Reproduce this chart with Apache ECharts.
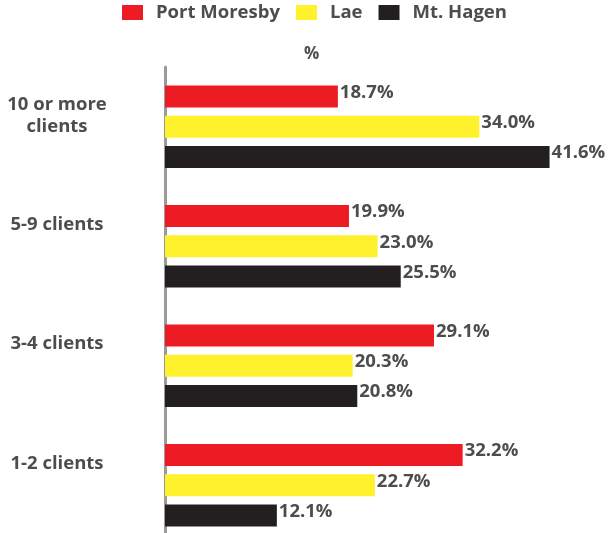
<!DOCTYPE html>
<html>
<head>
<meta charset="utf-8">
<script src="https://cdn.jsdelivr.net/npm/echarts@6/dist/echarts.min.js"></script>
<style>
  html, body { margin: 0; padding: 0; background: #fff; overflow: hidden; }
  /* a bit taller than the window: the lowest band runs past the bottom edge */
  #chart { width: 616px; height: 545px; }
</style>
</head>
<body>
<div id="chart"></div>
<script>
// Data
const categories = ['10 or more\nclients', '5-9 clients', '3-4 clients', '1-2 clients']
const portMoresby = [18.7, 19.9, 29.1, 32.2]
const lae = [34.0, 23.0, 20.3, 22.7]
const mtHagen = [41.6, 25.5, 20.8, 12.1]

const textColor = '#4d4d4d'
const font = '"Open Sans", sans-serif'

const chart = echarts.init(document.getElementById('chart'))

const makeSeries = (name, data, color) => ({
  name: name,
  type: 'bar',
  data: data,
  barWidth: 22,
  barGap: '38%',
  itemStyle: { color: color },
  label: {
    show: true,
    position: 'right',
    distance: 2,
    offset: [0, -4],
    formatter: p => p.value.toFixed(1) + '%',
    color: textColor,
    fontFamily: font,
    fontWeight: 'bold',
    fontSize: 18.5
  }
})

chart.setOption({
  animation: false,
  title: {
    text: '%',
    left: 299,
    top: 41,
    textStyle: { color: textColor, fontFamily: font, fontWeight: 'bold', fontSize: 17 }
  },
  legend: {
    top: 3,
    left: 122,
    padding: 0,
    itemWidth: 21,
    itemHeight: 15,
    itemGap: 16,
    icon: 'rect',
    textStyle: { color: textColor, fontFamily: font, fontWeight: 'bold', fontSize: 18.5, padding: [0, 0, 0, 8] }
  },
  grid: { left: 165, top: 67, bottom: 0, right: 35 },
  xAxis: {
    type: 'value',
    min: 0,
    max: 45,
    show: false
  },
  yAxis: {
    type: 'category',
    data: categories,
    inverse: true,
    axisLine: { lineStyle: { color: '#9a9a9a', width: 3 } },
    axisTick: { show: false },
    axisLabel: {
      align: 'center',
      margin: 108,
      lineHeight: 22,
      color: textColor,
      fontFamily: font,
      fontWeight: 'bold',
      fontSize: 18.5,
      formatter: v => v + '\n'.repeat(3 - v.split('\n').length)
    }
  },
  series: [
    makeSeries('Port Moresby', portMoresby, '#ed1c24'),
    makeSeries('Lae', lae, '#fff22d'),
    makeSeries('Mt. Hagen', mtHagen, '#231f20')
  ]
})
</script>
</body>
</html>
